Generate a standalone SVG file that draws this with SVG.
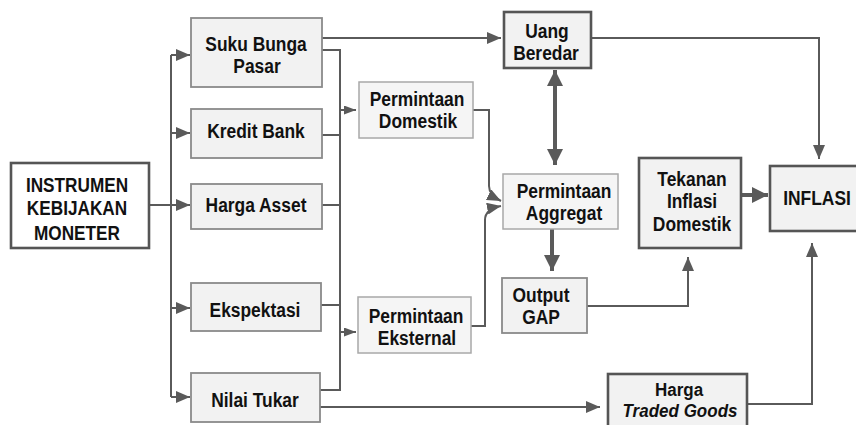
<svg xmlns="http://www.w3.org/2000/svg" width="856" height="425" viewBox="0 0 856 425">
<style>
.bx{fill:#f2f2f2;stroke:#8a8a8a;stroke-width:1.8}
.bl{fill:#f5f5f5;stroke:#a8a8a8;stroke-width:1.5}
.bk{fill:#f2f2f2;stroke:#555;stroke-width:2.6}
.t{font-family:"Liberation Sans",Arial,sans-serif;font-weight:bold;font-size:20px;fill:#111;text-anchor:middle}
.i{font-style:italic}
.sm{font-size:18.5px}
.c path{fill:none;stroke:#5a5a5a;stroke-width:2}
.c path.k{stroke-width:4}
</style>
<defs>
<marker id="a" viewBox="0 0 14 12" refX="14" refY="6" markerWidth="14" markerHeight="12" markerUnits="userSpaceOnUse" orient="auto"><path d="M0,0 L14,6 L0,12 z" fill="#5a5a5a"/></marker>
<marker id="s" viewBox="0 0 12 9" refX="12" refY="4.5" markerWidth="12" markerHeight="9" markerUnits="userSpaceOnUse" orient="auto"><path d="M0,0 L12,4.5 L0,9 z" fill="#5a5a5a"/></marker>
<marker id="b" viewBox="0 0 16 16" refX="16" refY="8" markerWidth="16" markerHeight="16" markerUnits="userSpaceOnUse" orient="auto-start-reverse"><path d="M0,0 L16,8 L0,16 z" fill="#5a5a5a"/></marker>
</defs>
<rect width="856" height="425" fill="#fff"/>
<g class="c" id="connectors">
<path d="M149,205 H171"/>
<path d="M171,55 V397"/>
<path d="M171,55 H190" marker-end="url(#a)"/>
<path d="M171,133 H190" marker-end="url(#a)"/>
<path d="M171,205 H190" marker-end="url(#a)"/>
<path d="M171,308 H190" marker-end="url(#a)"/>
<path d="M171,397 H190" marker-end="url(#a)"/>
<path d="M322,38 H501" marker-end="url(#a)"/>
<path d="M322,50 H340 V390 H320"/>
<path d="M322,135 H340"/>
<path d="M322,205 H340"/>
<path d="M321,305 H340"/>
<path d="M340,110 H356" marker-end="url(#s)"/>
<path d="M340,332 H356" marker-end="url(#s)"/>
<path d="M320,407 H600" marker-end="url(#a)"/>
<path d="M591,38 H819 V159" marker-end="url(#a)"/>
<path d="M473,110 H489 V186 Q489,195 501,201" marker-end="url(#a)"/>
<path d="M471,326 H485 V220 Q485,209 501,206" marker-end="url(#a)"/>
<path class="k" d="M555,70 V165" marker-start="url(#b)" marker-end="url(#b)"/>
<path class="k" d="M552,229 V271" marker-end="url(#b)"/>
<path class="k" d="M741,195 H768" marker-end="url(#b)"/>
<path d="M587,306 H688 V257" marker-end="url(#a)"/>
<path d="M747,404 H812 V243" marker-end="url(#a)"/>
</g>
<g id="instrumen"><rect x="11" y="163" width="138" height="85" fill="#fff" stroke="#555" stroke-width="2.6"/>
<text class="t" transform="translate(77,192) scale(0.86,1)">INSTRUMEN</text><text class="t" transform="translate(77,215) scale(0.86,1)">KEBIJAKAN</text><text class="t" transform="translate(77,240) scale(0.86,1)">MONETER</text></g>
<g id="suku"><rect class="bx" x="191" y="18" width="131" height="69"/><text class="t" transform="translate(256,51) scale(0.87,1)">Suku Bunga</text><text class="t" transform="translate(257,73) scale(0.87,1)">Pasar</text></g>
<g id="kredit"><rect class="bx" x="191" y="109" width="131" height="49"/><text class="t" transform="translate(256,138) scale(0.87,1)">Kredit Bank</text></g>
<g id="hargaasset"><rect class="bx" x="191" y="184" width="131" height="45"/><text class="t" transform="translate(256,212) scale(0.87,1)">Harga Asset</text></g>
<g id="ekspektasi"><rect class="bx" x="191" y="283" width="130" height="48"/><text class="t" transform="translate(255,317) scale(0.87,1)">Ekspektasi</text></g>
<g id="nilai"><rect class="bx" x="191" y="373" width="129" height="49"/><text class="t" transform="translate(255,407) scale(0.87,1)">Nilai Tukar</text></g>
<g id="pd"><rect class="bl" x="359" y="82" width="114" height="56"/><text class="t" transform="translate(417,106) scale(0.87,1)">Permintaan</text><text class="t" transform="translate(418,128) scale(0.87,1)">Domestik</text></g>
<g id="pe"><rect class="bl" x="358" y="297" width="113" height="56"/><text class="t" transform="translate(416,323) scale(0.87,1)">Permintaan</text><text class="t" transform="translate(417,345) scale(0.87,1)">Eksternal</text></g>
<g id="uang"><rect class="bk" x="504" y="12" width="87" height="56"/><text class="t" transform="translate(547,38) scale(0.87,1)">Uang</text><text class="t" transform="translate(546,60) scale(0.87,1)">Beredar</text></g>
<g id="pa"><rect class="bl" x="503" y="174" width="115" height="55"/><text class="t" transform="translate(564,198) scale(0.87,1)">Permintaan</text><text class="t" transform="translate(564,220) scale(0.87,1)">Aggregat</text></g>
<g id="output"><rect class="bx" x="502" y="278" width="85" height="55"/><text class="t" transform="translate(541,302) scale(0.87,1)">Output</text><text class="t" transform="translate(541,324) scale(0.87,1)">GAP</text></g>
<g id="tekanan"><rect class="bk" x="639" y="158" width="102" height="90"/><text class="t" transform="translate(692,186) scale(0.87,1)">Tekanan</text><text class="t" transform="translate(692,208) scale(0.87,1)">Inflasi</text><text class="t" transform="translate(692,231) scale(0.87,1)">Domestik</text></g>
<g id="inflasi"><rect class="bk" x="770" y="166" width="92" height="65"/><text class="t" transform="translate(817,205) scale(0.87,1)">INFLASI</text></g>
<g id="hargatg"><rect class="bk" x="608" y="374" width="139" height="60"/><text class="t sm" transform="translate(679,396) scale(0.92,1)">Harga</text><text class="t i sm" transform="translate(680,417) scale(0.92,1)">Traded Goods</text></g>
</svg>
